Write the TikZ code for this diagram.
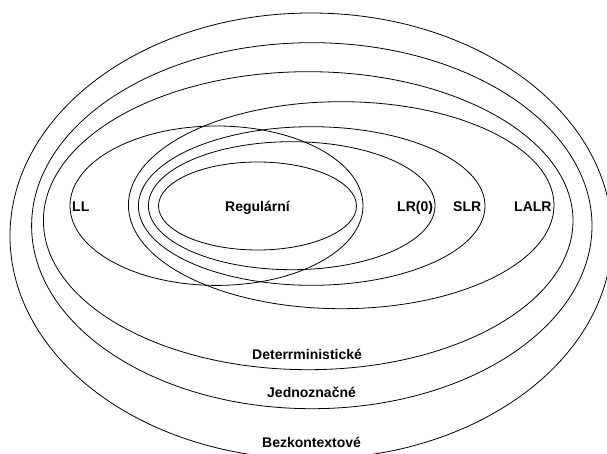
\documentclass[tikz,border=0pt]{standalone}
\usepackage{fontspec}
\setmainfont{Liberation Sans}
\begin{document}
\begin{tikzpicture}[x=1pt,y=-1pt,
  set/.style={draw=black,line width=0.8pt},
  lbl/.style={font=\bfseries\fontsize{14}{16}\selectfont,inner sep=0pt,anchor=base west}]
\useasboundingbox[fill=white] (0,0) rectangle (607,454);
% nested language classes, outermost first
\draw[set] (311,236) ellipse [x radius=301pt, y radius=223pt];
\draw[set] (311.8,225.7) ellipse [x radius=280.2pt, y radius=183pt];
\draw[set] (308.2,220.7) ellipse [x radius=264.8pt, y radius=149pt];
\draw[set] (341.2,205.2) ellipse [x radius=212.8pt, y radius=103.5pt];
\draw[set] (311.7,206) ellipse [x radius=173.3pt, y radius=79.3pt];
\draw[set] (291.7,205.7) ellipse [x radius=143.3pt, y radius=64pt];
\draw[set] (216.5,205.7) ellipse [x radius=146.5pt, y radius=79.7pt];
\draw[set] (257.5,206) ellipse [x radius=99pt, y radius=44pt];
% class names
\node[lbl] (ll) at (72,212) {LL};
\node[lbl] (reg) at (225,212) {Regulární};
\node[lbl] (lr0) at (397,212) {LR(0)};
\node[lbl] (slr) at (453,212) {SLR};
\node[lbl] (lalr) at (514,212) {LALR};
\node[lbl] (det) at (252,359) {Deterrministické};
\node[lbl] (jed) at (267,397) {Jednoznačné};
\node[lbl] (bez) at (262,447.5) {Bezkontextové};
\end{tikzpicture}
\end{document}
